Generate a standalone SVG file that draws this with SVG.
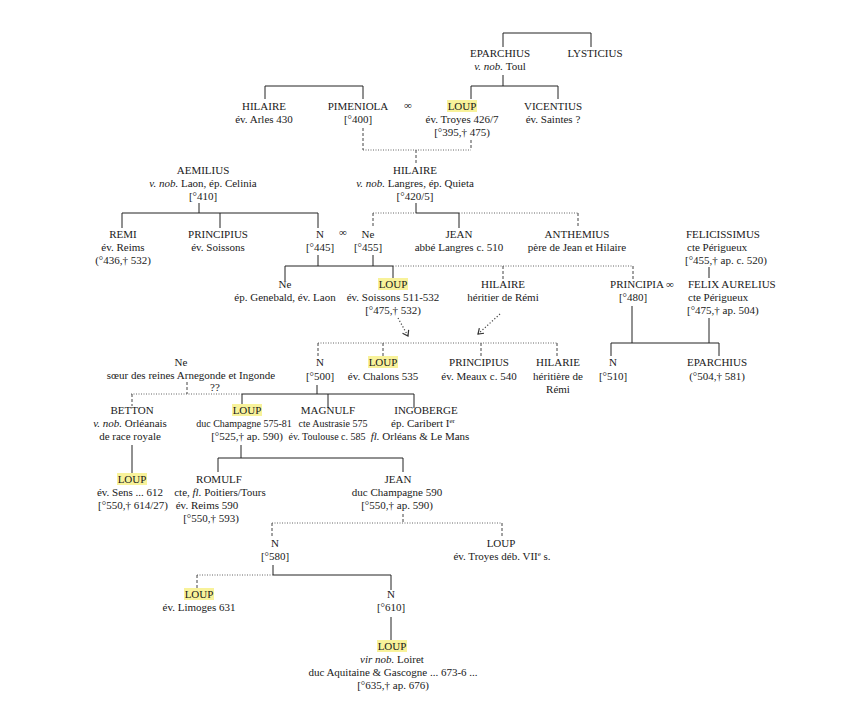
<svg xmlns="http://www.w3.org/2000/svg" width="863" height="709" viewBox="0 0 863 709">
<defs>
<style>
text{font-family:"Liberation Serif","Times New Roman",serif;font-size:11px;fill:#1a1a1a;text-anchor:middle}
.l{text-anchor:start}
.i{font-style:italic}
.n{font-size:10px}
.hl{fill:#f8f29a}
.s{fill:none;stroke:#222;stroke-width:1}
.d{fill:none;stroke:#666;stroke-width:1;stroke-dasharray:1 1.5}
.k{fill:none;stroke:#444;stroke-width:1;stroke-dasharray:3 2}
.a{fill:none;stroke:#444;stroke-width:1.2;stroke-dasharray:1.2 2}
</style>
<marker id="ah" markerWidth="8" markerHeight="8" refX="6" refY="4" orient="auto" markerUnits="userSpaceOnUse">
<path d="M1,0.5 L6,4 L1,7.5" fill="none" stroke="#333" stroke-width="1.2"/>
</marker>
</defs>
<rect width="863" height="709" fill="#fff"/>
<g id="connectors">
<path class="s" d="M503,47 V33 H591 V47"/>
<path class="s" d="M503,75 V86 M471,99 V86 H558 V99"/>
<path class="s" d="M265,99 V86 H363 V99"/>
<path class="s" d="M199,203 V213 M122,228 V213 H318 V228 M220,213 V228"/>
<path class="s" d="M416,203 V213 H459 V228"/>
<path class="s" d="M285,281 V266 H393 V281 M318,255 V266 M373,255 V266"/>
<path class="s" d="M709,267 V278"/>
<path class="s" d="M632,306 V343 M709,318 V343 M611,356 V343 H719 V356"/>
<path class="s" d="M317,385 V394 M242,408 V394 H414 V408 M328,394 V408"/>
<path class="s" d="M132,445 V474"/>
<path class="s" d="M241,445 V458 M218,472 V458 H403 V472"/>
<path class="s" d="M273,565 V575 H391 V590"/>
<path class="s" d="M391,617 V641"/>
<path class="d" d="M363,150 H471 M373,213 H416 M459,213 H578 M393,266 H633 M318,343 H557 M131,394 H242 M272,523 H502 M197,575 H273"/>
<path class="k" d="M363,128 V150 M471,140 V150 M416,150 V163 M373,213 V228 M578,213 V228 M503,266 V280 M633,266 V279 M318,343 V358 M383,343 V358 M481,343 V358 M557,343 V358 M187,382 V394 M132,394 V406 M403,514 V523 M272,523 V537 M502,523 V537 M197,575 V590"/>
<path class="a" d="M398,318 L408,336" marker-end="url(#ah)"/>
<path class="a" d="M500,314 L478,334" marker-end="url(#ah)"/>
</g>
<g id="eparchius1"><text x="500" y="57">EPARCHIUS</text><text x="500" y="70"><tspan class="i">v. nob.</tspan> Toul</text></g>
<g id="lysticius"><text x="595" y="57">LYSTICIUS</text></g>
<g id="hilaire-arles"><text x="264" y="110">HILAIRE</text><text x="264" y="123">év. Arles 430</text></g>
<g id="pimeniola"><text x="358" y="110">PIMENIOLA</text><text x="358" y="123">[°400]</text></g>
<g id="marr1"><text x="408" y="109">∞</text></g>
<g id="loup-troyes"><rect class="hl" x="447" y="100" width="30" height="12"/><text x="462" y="110">LOUP</text><text x="462" y="123">év. Troyes 426/7</text><text x="462" y="136">[°395,† 475)</text></g>
<g id="vicentius"><text x="553" y="110">VICENTIUS</text><text x="553" y="123">év. Saintes ?</text></g>
<g id="hilaire-langres"><text x="415" y="174">HILAIRE</text><text x="415" y="187"><tspan class="i">v. nob.</tspan> Langres, ép. Quieta</text><text x="415" y="200">[°420/5]</text></g>
<g id="aemilius"><text x="203" y="174">AEMILIUS</text><text x="203" y="187"><tspan class="i">v. nob.</tspan> Laon, ép. Celinia</text><text x="203" y="200">[°410]</text></g>
<g id="remi"><text x="123" y="238">REMI</text><text x="123" y="251">év. Reims</text><text x="123" y="264">(°436,† 532)</text></g>
<g id="principius1"><text x="218" y="238">PRINCIPIUS</text><text x="218" y="251">év. Soissons</text></g>
<g id="n445"><text x="320" y="238">N</text><text x="320" y="251">[°445]</text></g>
<g id="marr2"><text x="343" y="236">∞</text></g>
<g id="ne455"><text x="368" y="238">Ne</text><text x="368" y="251">[°455]</text></g>
<g id="jean-abbe"><text x="459" y="238">JEAN</text><text x="459" y="251">abbé Langres c. 510</text></g>
<g id="anthemius"><text x="577" y="238">ANTHEMIUS</text><text x="577" y="251">père de Jean et Hilaire</text></g>
<g id="felicissimus"><text class="l" x="686" y="238">FELICISSIMUS</text><text class="l" x="687" y="251">cte Périgueux</text><text class="l" x="685" y="264">[°455,† ap. c. 520)</text></g>
<g id="ne-genebald"><text x="285" y="288">Ne</text><text x="285" y="301">ép. Genebald, év. Laon</text></g>
<g id="loup-soissons"><rect class="hl" x="378" y="278" width="30" height="12"/><text x="393" y="288">LOUP</text><text x="393" y="301">év. Soissons 511-532</text><text x="393" y="314">[°475,† 532)</text></g>
<g id="hilaire-heritier"><text x="503" y="288">HILAIRE</text><text x="503" y="301">héritier de Rémi</text></g>
<g id="principia"><text x="642" y="288">PRINCIPIA ∞</text><text x="633" y="301">[°480]</text></g>
<g id="felix"><text class="l" x="688" y="288">FELIX AURELIUS</text><text class="l" x="688" y="301">cte Périgueux</text><text class="l" x="687" y="314">[°475,† ap. 504)</text></g>
<g id="n500"><text x="320" y="366">N</text><text x="320" y="380">[°500]</text></g>
<g id="loup-chalons"><rect class="hl" x="368" y="356" width="30" height="12"/><text x="383" y="366">LOUP</text><text x="383" y="380">év. Chalons 535</text></g>
<g id="principius2"><text x="479" y="366">PRINCIPIUS</text><text x="479" y="380">év. Meaux c. 540</text></g>
<g id="hilarie"><text x="558" y="366">HILARIE</text><text x="558" y="380">héritière de</text><text x="558" y="393">Rémi</text></g>
<g id="n510"><text x="613" y="366">N</text><text x="613" y="380">[°510]</text></g>
<g id="eparchius2"><text x="717" y="366">EPARCHIUS</text><text x="717" y="380">(°504,† 581)</text></g>
<g id="ne-soeur"><text x="181" y="366">Ne</text><text x="191" y="379">sœur des reines Arnegonde et Ingonde</text><text x="215" y="391">??</text></g>
<g id="betton"><text x="132" y="414">BETTON</text><text x="130" y="427"><tspan class="i">v. nob.</tspan> Orléanais</text><text x="130" y="440">de race royale</text></g>
<g id="loup-duc"><rect class="hl" x="232" y="404" width="30" height="12"/><text x="247" y="414">LOUP</text><text class="n" x="244" y="427">duc Champagne 575-81</text><text x="247" y="440">[°525,† ap. 590)</text></g>
<g id="magnulf"><text x="328" y="414">MAGNULF</text><text class="n" x="333" y="427">cte Austrasie 575</text><text class="n" x="327" y="440">év. Toulouse c. 585</text></g>
<g id="ingoberge"><text x="426" y="414">INGOBERGE</text><text x="423" y="427">ép. Caribert I<tspan font-size="7" dy="-4">er</tspan></text><text x="420" y="440"><tspan class="i">fl.</tspan> Orléans &amp; Le Mans</text></g>
<g id="loup-sens"><rect class="hl" x="117" y="473" width="30" height="12"/><text x="132" y="483">LOUP</text><text x="130" y="496">év. Sens ... 612</text><text x="133" y="509">[°550,† 614/27)</text></g>
<g id="romulf"><text x="219" y="483">ROMULF</text><text x="220" y="496">cte, <tspan class="i">fl.</tspan> Poitiers/Tours</text><text x="207" y="509">év. Reims 590</text><text x="211" y="522">[°550,† 593)</text></g>
<g id="jean-duc"><text x="398" y="483">JEAN</text><text x="397" y="496">duc Champagne 590</text><text x="397" y="509">[°550,† ap. 590)</text></g>
<g id="n580"><text x="275" y="547">N</text><text x="275" y="560">[°580]</text></g>
<g id="loup-troyes2"><text x="501" y="547">LOUP</text><text x="502" y="560">év. Troyes déb. VII<tspan font-size="7" dy="-4">e</tspan><tspan dy="4"> s.</tspan></text></g>
<g id="loup-limoges"><rect class="hl" x="184" y="588" width="30" height="12"/><text x="199" y="598">LOUP</text><text x="199" y="611">év. Limoges 631</text></g>
<g id="n610"><text x="391" y="598">N</text><text x="391" y="611">[°610]</text></g>
<g id="loup-loiret"><rect class="hl" x="377" y="640" width="30" height="12"/><text x="392" y="650">LOUP</text><text x="392" y="663"><tspan class="i">vir nob.</tspan> Loiret</text><text x="393" y="676">duc Aquitaine &amp; Gascogne ... 673-6 ...</text><text x="393" y="689">[°635,† ap. 676)</text></g>
</svg>
